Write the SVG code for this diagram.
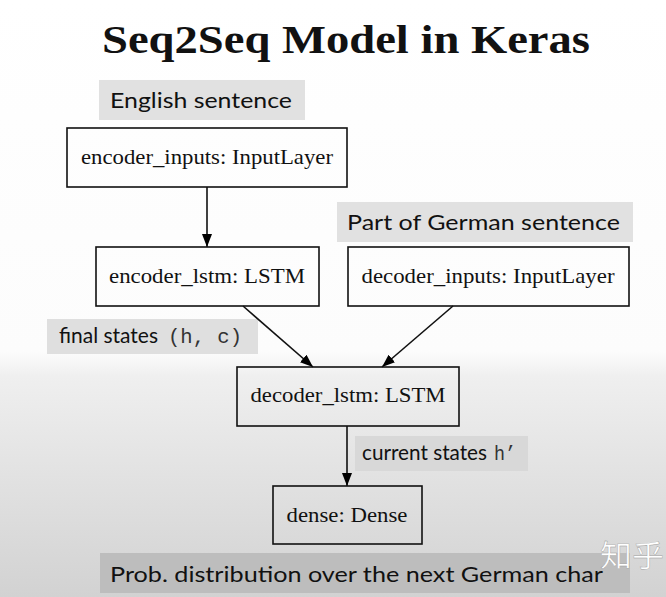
<svg xmlns="http://www.w3.org/2000/svg" width="666" height="597" viewBox="0 0 666 597">
<defs>
<linearGradient id="bg" x1="0" y1="0" x2="0" y2="1">
<stop offset="0" stop-color="#ffffff"/>
<stop offset="0.59" stop-color="#fcfcfc"/>
<stop offset="0.63" stop-color="#efefef"/>
<stop offset="1" stop-color="#d2d2d2"/>
</linearGradient>
<marker id="ah" viewBox="0 0 13 10" refX="13" refY="5" markerWidth="13" markerHeight="10" markerUnits="userSpaceOnUse" orient="auto">
<path d="M0,0 L13,5 L0,10 z" fill="#000"/>
</marker>
<style>
.node{fill:none;stroke:#111;stroke-width:1.6}
.nt{font-family:"Liberation Serif","Times New Roman",serif;font-size:21px;fill:#111}
.lab{font-family:Lato,"Open Sans","Liberation Sans",sans-serif;font-size:22px;fill:#111}
.mono{font-family:"Liberation Mono","Courier New",monospace;font-size:20px;fill:#333}
.edge{stroke:#111;stroke-width:1.6;fill:none;marker-end:url(#ah)}
</style>
</defs>
<rect width="666" height="597" fill="url(#bg)"/>
<text x="346" y="53" text-anchor="middle" font-family="'Liberation Serif','Times New Roman',serif" font-weight="bold" font-size="41" fill="#111" textLength="488" lengthAdjust="spacingAndGlyphs">Seq2Seq Model in Keras</text>

<g id="label-english">
<rect x="99" y="80" width="206" height="40" fill="#e1e1e1"/>
<text class="lab" x="110" y="108" textLength="182" lengthAdjust="spacingAndGlyphs">English sentence</text>
</g>
<g id="label-german">
<rect x="337" y="202" width="296" height="40" fill="#e1e1e1"/>
<text class="lab" x="347" y="230" textLength="273" lengthAdjust="spacingAndGlyphs">Part of German sentence</text>
</g>
<g id="label-final">
<rect x="47" y="319" width="211" height="35" fill="#dfdfdf"/>
<text class="lab" x="59" y="343" font-size="20"><tspan textLength="99" lengthAdjust="spacingAndGlyphs">final states</tspan><tspan class="mono" x="168" textLength="74" lengthAdjust="spacingAndGlyphs">(h, c)</tspan></text>
</g>
<g id="label-current">
<rect x="355" y="436" width="173" height="35" fill="#d8d8d8"/>
<text class="lab" x="362" y="460" font-size="20"><tspan textLength="125" lengthAdjust="spacingAndGlyphs">current states</tspan><tspan class="mono" x="494" textLength="22" lengthAdjust="spacingAndGlyphs">h’</tspan></text>
</g>
<g id="label-prob">
<rect x="100" y="553" width="530" height="40" fill="#bdbdbd"/>
<text class="lab" x="110" y="582" textLength="493" lengthAdjust="spacingAndGlyphs">Prob. distribution over the next German char</text>
</g>

<g id="connectors">
<line class="edge" x1="207" y1="187" x2="207" y2="247"/>
<line class="edge" x1="243" y1="306" x2="313" y2="367"/>
<line class="edge" x1="453" y1="306" x2="382" y2="367"/>
<line class="edge" x1="347" y1="426" x2="347" y2="486"/>
</g>

<g id="encoder_inputs">
<rect class="node" x="67" y="128" width="280" height="59"/>
<text class="nt" x="207" y="164" text-anchor="middle" textLength="252" lengthAdjust="spacingAndGlyphs">encoder_inputs: InputLayer</text>
</g>
<g id="encoder_lstm">
<rect class="node" x="96" y="247" width="223" height="59"/>
<text class="nt" x="207" y="283" text-anchor="middle" textLength="196" lengthAdjust="spacingAndGlyphs">encoder_lstm: LSTM</text>
</g>
<g id="decoder_inputs">
<rect class="node" x="348" y="247" width="281" height="59"/>
<text class="nt" x="488" y="283" text-anchor="middle" textLength="253" lengthAdjust="spacingAndGlyphs">decoder_inputs: InputLayer</text>
</g>
<g id="decoder_lstm">
<rect class="node" x="237" y="367" width="222" height="59"/>
<text class="nt" x="348" y="402" text-anchor="middle" textLength="195" lengthAdjust="spacingAndGlyphs">decoder_lstm: LSTM</text>
</g>
<g id="dense">
<rect class="node" x="273" y="486" width="149" height="58"/>
<text class="nt" x="347" y="522" text-anchor="middle" textLength="121" lengthAdjust="spacingAndGlyphs">dense: Dense</text>
</g>

<text x="600" y="566" font-family="'Noto Sans CJK SC',sans-serif" font-size="30" fill="#ffffff" stroke="#999" stroke-width="0.4" textLength="64" lengthAdjust="spacingAndGlyphs">知乎</text>
</svg>
